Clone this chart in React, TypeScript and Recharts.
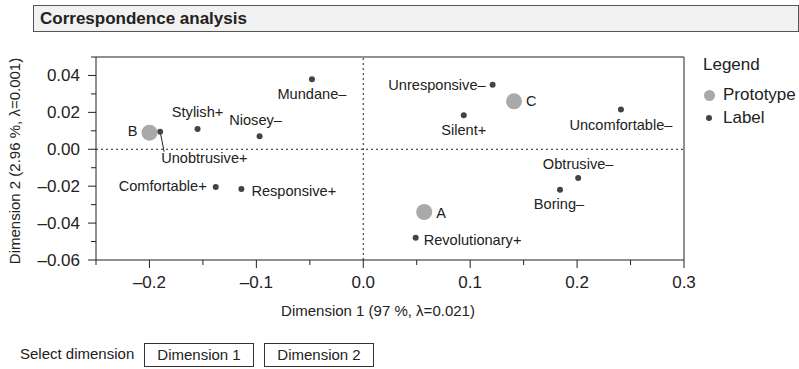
import React from "react";
import { ScatterChart, Scatter, XAxis, YAxis, ReferenceLine } from "recharts";

// Row points (attribute labels)
const labelNames = [
  "Unobtrusive+",
  "Stylish+",
  "Niosey–",
  "Mundane–",
  "Comfortable+",
  "Responsive+",
  "Unresponsive–",
  "Silent+",
  "Uncomfortable–",
  "Obtrusive–",
  "Boring–",
  "Revolutionary+",
];
const labelDim1 = [-0.19, -0.155, -0.097, -0.048, -0.138, -0.114, 0.121, 0.094, 0.241, 0.201, 0.184, 0.049];
const labelDim2 = [0.0095, 0.011, 0.007, 0.038, -0.0205, -0.0215, 0.035, 0.0185, 0.0215, -0.0155, -0.022, -0.048];

// Column points (prototypes)
const prototypeNames = ["A", "B", "C"];
const prototypeDim1 = [0.057, -0.2, 0.141];
const prototypeDim2 = [-0.034, 0.009, 0.026];

const xTicks = [-0.25, -0.2, -0.15, -0.1, -0.05, 0, 0.05, 0.1, 0.15, 0.2, 0.25, 0.3];
const yTicks = [-0.06, -0.05, -0.04, -0.03, -0.02, -0.01, 0, 0.01, 0.02, 0.03, 0.04, 0.05];

const labelData = labelNames.map((name, i) => ({ name, x: labelDim1[i], y: labelDim2[i] }));
const prototypeData = prototypeNames.map((name, i) => ({ name, x: prototypeDim1[i], y: prototypeDim2[i] }));

type Anchor = "start" | "middle" | "end";
const placement: Record<string, { dx: number; dy: number; anchor: Anchor; leader?: boolean }> = {
  "Unobtrusive+": { dx: 1, dy: 26, anchor: "start", leader: true },
  "Stylish+": { dx: 0, dy: -17, anchor: "middle" },
  "Niosey–": { dx: -4, dy: -16, anchor: "middle" },
  "Mundane–": { dx: 0, dy: 15, anchor: "middle" },
  "Comfortable+": { dx: -9, dy: -1, anchor: "end" },
  "Responsive+": { dx: 10, dy: 2, anchor: "start" },
  "Unresponsive–": { dx: -7, dy: 0, anchor: "end" },
  "Silent+": { dx: 0, dy: 15, anchor: "middle" },
  "Uncomfortable–": { dx: 0, dy: 15, anchor: "middle" },
  "Obtrusive–": { dx: 0, dy: -14, anchor: "middle" },
  "Boring–": { dx: -1, dy: 14, anchor: "middle" },
  "Revolutionary+": { dx: 8, dy: 2, anchor: "start" },
  A: { dx: 12, dy: 1, anchor: "start" },
  B: { dx: -12, dy: -2, anchor: "end" },
  C: { dx: 12, dy: 0, anchor: "start" },
};

const FONT = "'Liberation Sans', Arial, Helvetica, sans-serif";
const INK = "#222";

const fmt = (v: number, digits: number) => {
  const s = Math.abs(v).toFixed(digits);
  return v < -1e-9 ? `–${s}` : s;
};

// long ticks carry a label, short ones are minor
const XTick = (props: any) => {
  const { x, y, payload } = props;
  const major = Math.round(payload.value * 100) % 10 === 0;
  return (
    <g>
      <line x1={x} y1={y} x2={x} y2={y + (major ? 8 : 5)} stroke={INK} />
      {major && (
        <text x={x} y={y + 28} textAnchor="middle" fontSize={17} fontFamily={FONT} fill={INK}>
          {fmt(payload.value, 1)}
        </text>
      )}
    </g>
  );
};

const YTick = (props: any) => {
  const { x, y, payload } = props;
  const major = Math.round(payload.value * 100) % 2 === 0;
  return (
    <g>
      <line x1={x - (major ? 8 : 5)} y1={y} x2={x} y2={y} stroke={INK} />
      {major && (
        <text x={x - 16} y={y + 6} textAnchor="end" fontSize={17} fontFamily={FONT} fill={INK}>
          {fmt(payload.value, 2)}
        </text>
      )}
    </g>
  );
};

const makeShape = (r: number, fill: string) => (props: any) => {
  const { cx, cy, payload } = props;
  const p = placement[payload.name];
  const tx = cx + p.dx;
  const ty = cy + p.dy;
  return (
    <g>
      {p.leader && <line x1={cx} y1={cy} x2={cx + 4} y2={ty - 6} stroke={INK} strokeWidth={1} />}
      <circle cx={cx} cy={cy} r={r} fill={fill} />
      <text
        x={tx}
        y={ty}
        textAnchor={p.anchor}
        dominantBaseline="central"
        fontSize={14.6}
        fontFamily={FONT}
        fill={INK}
      >
        {payload.name}
      </text>
    </g>
  );
};

const boxStyle: React.CSSProperties = {
  position: "absolute",
  top: 343,
  height: 24,
  width: 110,
  border: "1px solid #333",
  boxSizing: "border-box",
  fontSize: 15,
  lineHeight: "22px",
  textAlign: "center",
  color: INK,
};

export default function App() {
  return (
    <div
      style={{
        position: "absolute",
        left: 0,
        top: 0,
        width: 799,
        height: 369,
        background: "#fff",
        fontFamily: FONT,
        color: INK,
        overflow: "hidden",
      }}
    >
      <div
        style={{
          position: "absolute",
          left: 33,
          top: 5,
          width: 766,
          height: 27,
          boxSizing: "border-box",
          border: "1px solid #555",
          background: "#f1f1f1",
          fontWeight: "bold",
          fontSize: 17,
          lineHeight: "25px",
          paddingLeft: 6,
        }}
      >
        Correspondence analysis
      </div>

      <div style={{ position: "absolute", left: 0, top: 0 }}>
        <ScatterChart width={799} height={300} margin={{ top: 57, right: 115, bottom: 10, left: 36 }}>
          <XAxis
            type="number"
            dataKey="x"
            domain={[-0.25, 0.3]}
            ticks={xTicks}
            interval={0}
            tickSize={0}
            tickMargin={0}
            tickLine={false}
            tick={<XTick />}
            height={30}
            stroke={INK}
            allowDataOverflow
          />
          <YAxis
            type="number"
            dataKey="y"
            domain={[-0.06, 0.05]}
            ticks={yTicks}
            interval={0}
            tickSize={0}
            tickMargin={0}
            tickLine={false}
            tick={<YTick />}
            width={60}
            stroke={INK}
            allowDataOverflow
          />
          <ReferenceLine y={0.05} stroke={INK} />
          <ReferenceLine x={0.3} stroke={INK} />
          <ReferenceLine x={0} stroke={INK} strokeDasharray="2 3" />
          <ReferenceLine y={0} stroke={INK} strokeDasharray="2 3" />
          <Scatter data={labelData} shape={makeShape(3, "#444")} isAnimationActive={false} />
          <Scatter data={prototypeData} shape={makeShape(8, "#a9a9a9")} isAnimationActive={false} />
        </ScatterChart>
      </div>

      <div style={{ position: "absolute", left: 278, top: 302, width: 200, textAlign: "center", fontSize: 15, whiteSpace: "nowrap" }}>
        Dimension 1 (97 %, λ=0.021)
      </div>
      <div
        style={{
          position: "absolute",
          left: 14,
          top: 161,
          fontSize: 15,
          whiteSpace: "nowrap",
          transform: "translate(-50%, -50%) rotate(-90deg)",
        }}
      >
        Dimension 2 (2.96 %, λ=0.001)
      </div>

      {/* legend */}
      <div style={{ position: "absolute", left: 703, top: 55, fontSize: 17 }}>Legend</div>
      <div style={{ position: "absolute", left: 704, top: 90, width: 11, height: 11, borderRadius: 6, background: "#a9a9a9" }} />
      <div style={{ position: "absolute", left: 723, top: 85, fontSize: 17 }}>Prototype</div>
      <div style={{ position: "absolute", left: 706, top: 115, width: 6, height: 6, borderRadius: 3, background: "#444" }} />
      <div style={{ position: "absolute", left: 723, top: 108, fontSize: 17 }}>Label</div>

      {/* dimension selector */}
      <div style={{ position: "absolute", left: 20, top: 345, fontSize: 15 }}>Select dimension</div>
      <div style={{ ...boxStyle, left: 144 }}>Dimension 1</div>
      <div style={{ ...boxStyle, left: 264 }}>Dimension 2</div>
    </div>
  );
}
